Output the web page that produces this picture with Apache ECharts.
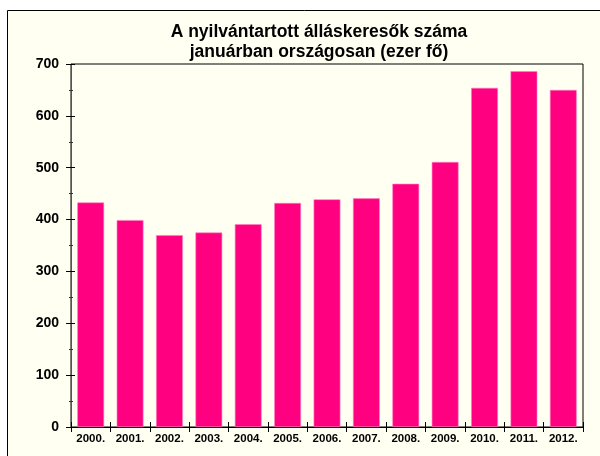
<!DOCTYPE html>
<html>
<head>
<meta charset="utf-8">
<script src="https://cdn.jsdelivr.net/npm/echarts@6/dist/echarts.min.js"></script>
<style>
  html, body { margin: 0; padding: 0; background: #fff; }
  #chart { width: 600px; height: 456px; }
</style>
</head>
<body>
<div id="chart"></div>
<script>
// évek és álláskeresők (ezer fő)
var years = ['2000.', '2001.', '2002.', '2003.', '2004.', '2005.', '2006.', '2007.', '2008.', '2009.', '2010.', '2011.', '2012.']
var seekers = [433, 399, 370, 375, 391, 432, 439, 441, 469, 511, 654, 686, 650]
var yTicks = [0, 100, 200, 300, 400, 500, 600, 700]

var myChart = echarts.init(document.getElementById('chart'))
var font = 'Arial, "Liberation Sans", sans-serif'
var option = {
  animation: false,
  backgroundColor: '#fff',
  graphic: [
    {
      type: 'rect',
      z: -10,
      shape: { x: 7.5, y: 10.5, width: 700, height: 600 },
      style: { fill: '#FFFFF2', stroke: '#000', lineWidth: 1 }
    }
  ],
  title: {
    text: 'A nyilvántartott álláskeresők száma\njanuárban országosan (ezer fő)',
    left: 314,
    top: 17,
    textAlign: 'center',
    textStyle: {
      fontFamily: font,
      fontSize: 17.5,
      fontWeight: 'bold',
      color: '#000',
      lineHeight: 20
    }
  },
  grid: {
    left: 71,
    right: 17,
    top: 64,
    bottom: 29,
    show: true,
    borderColor: '#000',
    borderWidth: 1,
    backgroundColor: 'transparent'
  },
  xAxis: [
    {
      type: 'category',
      data: years,
      axisLine: { lineStyle: { color: '#000', width: 1 } },
      axisTick: { show: true, length: 5, lineStyle: { color: '#000' } },
      axisLabel: {
        color: '#000',
        fontFamily: font,
        fontSize: 11.5,
        fontWeight: 'bold',
        margin: 6,
        interval: 0
      }
    },
    {
      // ticks pointing up (cross look)
      type: 'category',
      data: years,
      position: 'bottom',
      axisLine: { show: false },
      axisTick: { show: true, inside: true, length: 5, lineStyle: { color: '#000' } },
      axisLabel: { show: false }
    }
  ],
  yAxis: [
    {
      type: 'value',
      min: yTicks[0],
      max: yTicks[yTicks.length - 1],
      interval: 100,
      splitLine: { show: false },
      axisLine: { show: true, lineStyle: { color: '#555', width: 1 } },
      axisTick: { show: true, length: 5, lineStyle: { color: '#000' } },
      minorTick: { show: true, splitNumber: 2, length: 2, lineStyle: { color: '#333' } },
      axisLabel: {
        color: '#000',
        fontFamily: font,
        fontSize: 14,
        fontWeight: 'bold',
        margin: 12
      }
    },
    {
      type: 'value',
      position: 'left',
      min: yTicks[0],
      max: yTicks[yTicks.length - 1],
      interval: 100,
      splitLine: { show: false },
      axisLine: { show: false },
      axisTick: { show: true, inside: true, length: 4, lineStyle: { color: '#000' } },
      minorTick: { show: true, splitNumber: 2, length: 2, lineStyle: { color: '#333' } },
      axisLabel: { show: false }
    }
  ],
  series: [
    {
      name: 'álláskeresők',
      type: 'bar',
      data: seekers,
      barCategoryGap: '32%',
      itemStyle: {
        color: '#FF0080',
        borderColor: '#FF7FBF',
        borderWidth: 0.6
      }
    }
  ]
}
myChart.setOption(option)
</script>
</body>
</html>
